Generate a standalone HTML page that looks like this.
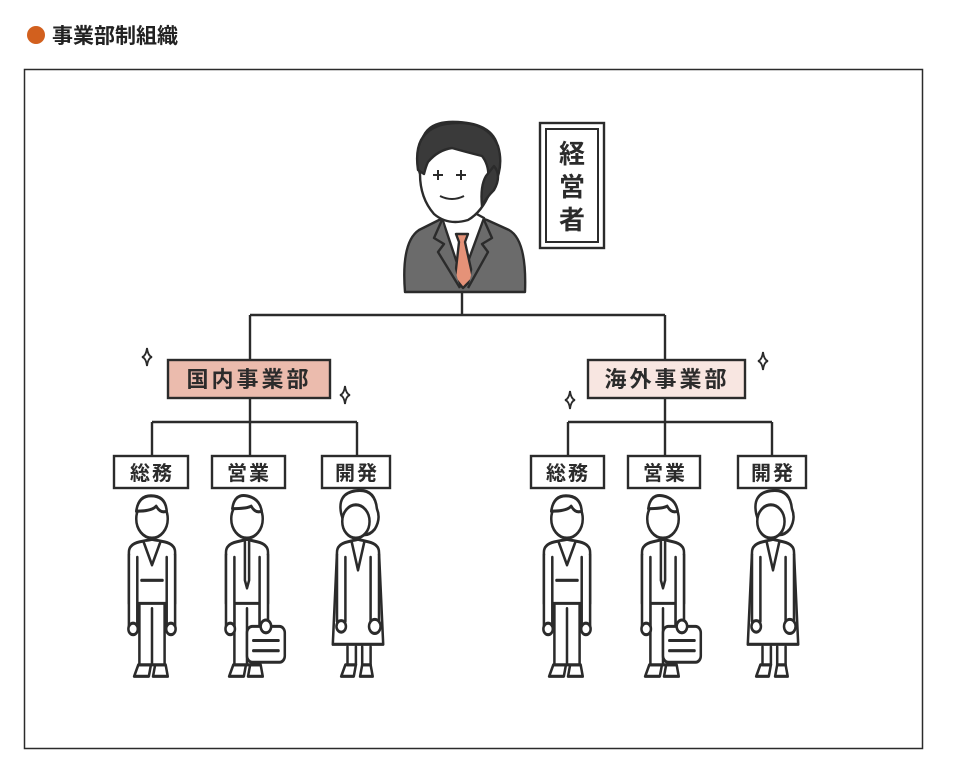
<!DOCTYPE html>
<html><head><meta charset="utf-8"><style>
body{margin:0;background:#fff;}
svg{display:block}
text{font-family:"Liberation Sans","Noto Sans CJK JP",sans-serif;}
</style></head><body>
<svg width="954" height="782" viewBox="0 0 954 782" xmlns="http://www.w3.org/2000/svg">
<defs>
<g id="man" fill="#fff" stroke="#2b2b2b" stroke-width="2.4" stroke-linejoin="round" stroke-linecap="round">
  <path d="M-13,110 l-4,9 h14 l2,-9z M3,110 l-2,9 h14 l-2,-9z"/>
  <path d="M-12,60 v50 h12 v-44 M0,66 v44 h12 v-50"/>
  <path d="M-22,22 q0,-6 10,-8 l12,-2 l12,2 q10,2 10,8 v40 h-44z"/>
  <path d="M-22,24 v56 h8 v-54 M22,24 v56 h-8 v-54"/>
  <circle cx="-18" cy="82" r="4.5"/><circle cx="18" cy="82" r="4.5"/>
  <path d="M-8,14 l8,18 l8,-18"/>
  <path d="M-10,44 h20"/>
  <circle cx="0" cy="-4" r="15"/>
  <path d="M-15,-10 q2,-12 14,-12 q14,0 15,12 q-6,2 -10,-4 q-4,4 -19,4z" fill="#fff"/>
</g>
<g id="sales" fill="#fff" stroke="#2b2b2b" stroke-width="2.4" stroke-linejoin="round" stroke-linecap="round">
  <path d="M-13,110 l-4,9 h14 l2,-9z M3,110 l-2,9 h14 l-2,-9z"/>
  <path d="M-12,60 v50 h12 v-44 M0,66 v44 h12 v-50"/>
  <path d="M-20,22 q0,-6 10,-8 l10,-2 l10,2 q10,2 10,8 v40 h-40z"/>
  <path d="M-20,24 v56 h8 v-54 M20,24 v56 h-8 v-54"/>
  <circle cx="-16" cy="82" r="4.5"/>
  <path d="M-2,14 v30 l2,6 l2,-6 v-30"/>
  <rect x="0" y="80" width="36" height="28" rx="5"/>
  <circle cx="18" cy="80" r="5"/>
  <path d="M6,91 h24 M6,99 h24"/>
  <circle cx="0" cy="-4" r="15"/>
  <path d="M-14,-12 q2,-12 14,-10 q12,2 14,12 q-6,2 -10,-4 q-4,2 -18,2z"/>
</g>
<g id="woman" fill="#fff" stroke="#2b2b2b" stroke-width="2.4" stroke-linejoin="round" stroke-linecap="round">
  <path d="M-12,110 l-4,9 h12 l2,-9z M4,110 l-2,9 h12 l-2,-9z"/>
  <path d="M-10,96 v14 h8 v-14 M4,96 v14 h8 v-14"/>
  <path d="M-20,22 q0,-6 10,-8 l10,-2 l10,2 q10,2 10,8 l4,72 h-48z"/>
  <path d="M-20,24 v52 h8 v-50 M20,24 v52 h-8 v-50"/>
  <circle cx="-16" cy="80" r="4.5"/><circle cx="16" cy="80" r="5.5"/>
  <path d="M-6,14 l6,22 l6,-22"/>
  <path d="M-16,-8 q-4,-16 14,-18 q18,-2 20,14 q4,8 -2,16 q-6,6 -14,4 q-14,-2 -18,-16z"/>
  <circle cx="-2" cy="-2" r="13"/>
</g>
<path id="spark" d="M0,-9 q1,8 5,9 q-4,1 -5,9 q-1,-8 -5,-9 q4,-1 5,-9z" fill="#fff" stroke="#2b2b2b" stroke-width="1.8"/>
</defs>

<circle cx="36" cy="35" r="9" fill="#d2601e"/>
<text x="52" y="43" font-size="21" font-weight="bold" fill="#222">事業部制組織</text>

<rect x="24.5" y="69.5" width="898" height="679" fill="#fff" stroke="#2b2b2b" stroke-width="1.5"/>

<g stroke="#2b2b2b" stroke-width="2.4" fill="none">
  <path d="M462,292 V315 M250,315 H665 M250,315 V360 M665,315 V360"/>
  <path d="M250,398 V422 M152,422 H357 M152,422 V456 M250,422 V456 M357,422 V456"/>
  <path d="M665,398 V422 M568,422 H772 M568,422 V456 M665,422 V456 M772,422 V456"/>
</g>

<g stroke="#2b2b2b" stroke-width="2.4" stroke-linejoin="round">
  <path d="M405,292 q-4,-50 14,-62 l20,-10 l24,-8 l24,8 l22,10 q18,10 16,62z" fill="#6b6b6b"/>
  <path d="M442,218 l20,60 l22,-60 l-22,-12z" fill="#fff"/>
  <path d="M456,234 l12,0 l-3,8 l8,36 l-10,10 l-8,-10 l4,-36z" fill="#e59278"/>
  <path d="M442,220 l-8,18 l10,6 l-6,8 l22,36 M484,220 l8,18 l-10,6 l6,8 l-20,36" fill="#6b6b6b"/>
  <path d="M422,140 q6,-20 36,-18 q36,2 40,26 q4,26 -8,44 q-8,20 -22,28 q-20,6 -34,-6 q-14,-16 -14,-40 q-6,-18 2,-34z" fill="#fff"/>
  <path d="M418,170 q-6,-40 28,-46 q40,-6 52,22 q6,20 -4,40 l-6,-4 q2,-16 -6,-26 q-16,-4 -30,-8 q-14,2 -24,14 q-2,4 -4,12z" fill="#3a3a3a"/>
  <path d="M494,166 q8,10 0,24 q-8,8 -12,16 q-2,-20 4,-30z" fill="#3a3a3a"/>
  <path d="M433,175 h10 M438,170 v10 M456,175 h10 M461,170 v10 M440,196 q12,6 24,0" fill="none" stroke-width="2"/>
</g>
<rect x="540" y="123" width="64" height="125" fill="#fff" stroke="#2b2b2b" stroke-width="2.4"/>
<rect x="546" y="129" width="52" height="113" fill="none" stroke="#2b2b2b" stroke-width="2"/>
<g font-size="26" text-anchor="middle" fill="#2b2b2b" font-weight="bold">
<text x="572" y="163">経</text><text x="572" y="196">営</text><text x="572" y="229">者</text>
</g>

<rect x="168" y="360" width="162" height="38" fill="#ebbbad" stroke="#2b2b2b" stroke-width="2.4"/>
<text x="249" y="387" font-size="22" text-anchor="middle" fill="#2b2b2b" letter-spacing="3" font-weight="bold">国内事業部</text>
<rect x="588" y="360" width="157" height="38" fill="#f8e6e1" stroke="#2b2b2b" stroke-width="2.4"/>
<text x="667" y="387" font-size="22" text-anchor="middle" fill="#2b2b2b" letter-spacing="3" font-weight="bold">海外事業部</text>

<use href="#spark" x="147" y="357"/>
<use href="#spark" x="345" y="395"/>
<use href="#spark" x="570" y="400"/>
<use href="#spark" x="763" y="361"/>

<g fill="#fff" stroke="#2b2b2b" stroke-width="2.4">
  <rect x="114" y="456" width="74" height="32"/><rect x="212" y="456" width="73" height="32"/><rect x="322" y="456" width="68" height="32"/>
  <rect x="531" y="456" width="73" height="32"/><rect x="628" y="456" width="72" height="32"/><rect x="738" y="456" width="68" height="32"/>
</g>
<g font-size="20" text-anchor="middle" fill="#2b2b2b" letter-spacing="2" font-weight="bold">
  <text x="152" y="480">総務</text><text x="249" y="480">営業</text><text x="357" y="480">開発</text>
  <text x="568" y="480">総務</text><text x="665" y="480">営業</text><text x="773" y="480">開発</text>
</g>

<use href="#man" transform="translate(152,524) scale(1.05,1.28)"/>
<use href="#sales" transform="translate(247,524) scale(1.05,1.28)"/>
<use href="#woman" transform="translate(358,524) scale(1.05,1.28)"/>
<use href="#man" transform="translate(567,524) scale(1.05,1.28)"/>
<use href="#sales" transform="translate(663,524) scale(1.05,1.28)"/>
<use href="#woman" transform="translate(773,524) scale(1.05,1.28)"/>
</svg>
</body></html>
